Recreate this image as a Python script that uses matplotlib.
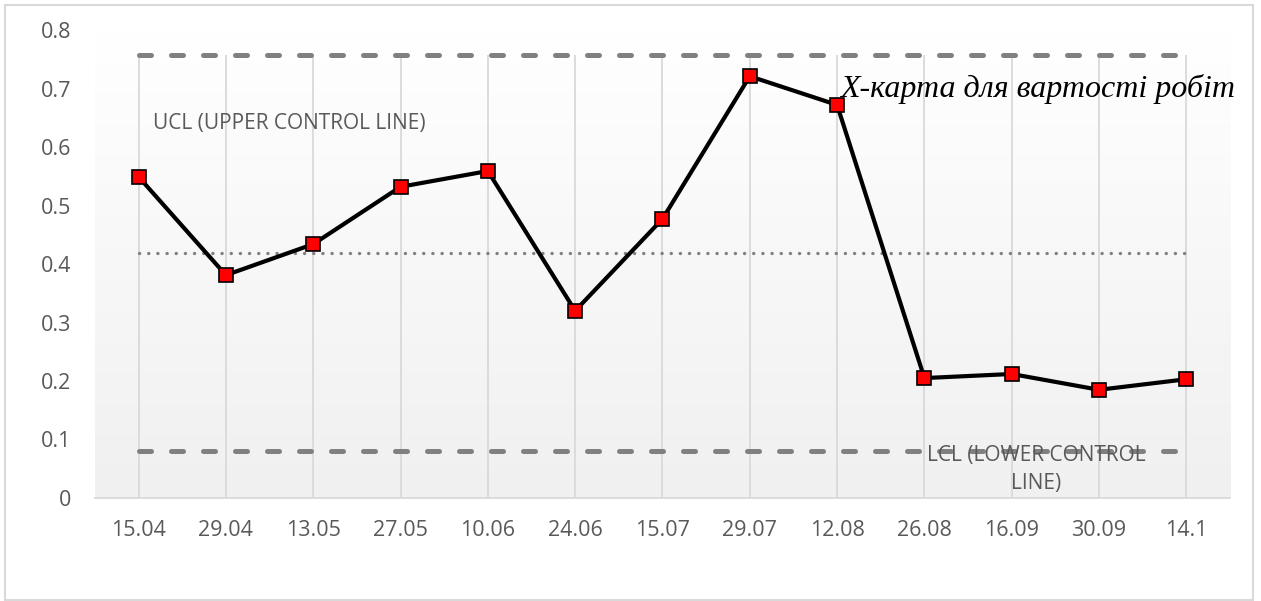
import numpy as np
import matplotlib
matplotlib.use("Agg")
import matplotlib.pyplot as plt
from matplotlib.patches import Rectangle

dates = ["15.04", "29.04", "13.05", "27.05", "10.06", "24.06", "15.07",
         "29.07", "12.08", "26.08", "16.09", "30.09", "14.1"]
cost = [0.549, 0.381, 0.434, 0.532, 0.559, 0.320, 0.477,
        0.721, 0.672, 0.205, 0.212, 0.185, 0.203]
ucl = 0.757
mean = 0.419
lcl = 0.080

plt.rcParams['font.family'] = ['Open Sans', 'DejaVu Sans']

fig = plt.figure(figsize=(12.61, 6.01), dpi=100)
ax = fig.add_axes([0.0753, 0.1714, 0.9001, 0.7786])

x = np.arange(len(dates))
ax.set_xlim(-0.5, len(dates) - 0.5)
ax.set_ylim(0, 0.8)

# plot area: white at the top fading to light grey
grad = np.linspace(0, 1, 256).reshape(-1, 1)
cmap = matplotlib.colors.LinearSegmentedColormap.from_list("bg", ["#f0f0f0", "#ffffff"])
ax.imshow(grad, extent=[-0.5, len(dates) - 0.5, 0, 0.8], origin="lower",
          aspect="auto", cmap=cmap, zorder=0)

# drop lines
ax.vlines(x, 0, ucl, color="#d9d9d9", lw=1.3, zorder=1)

ax.plot(x, [ucl] * len(x), color="#808080", lw=3.6,
        dash_capstyle="round", dashes=(2.4, 4.0), zorder=2)
ax.plot(x, [lcl] * len(x), color="#808080", lw=3.6,
        dash_capstyle="round", dashes=(2.4, 4.0), zorder=2)
ax.plot(x, [mean] * len(x), color="#808080", lw=2.4,
        dash_capstyle="round", dashes=(0.05, 2.7), zorder=2)

ax.plot(x, cost, color="black", lw=3, marker="s", markersize=10,
        markerfacecolor="#ff0000", markeredgecolor="black", markeredgewidth=1.2,
        zorder=4)

ax.set_xticks(x)
ax.set_xticklabels(dates)
ax.set_yticks(np.arange(0, 0.81, 0.1))
ax.set_yticklabels(["0"] + [f"{v:.1f}" for v in np.arange(0.1, 0.81, 0.1)])
ax.tick_params(axis="both", length=0, labelsize=15.5, labelcolor="#595959")
ax.tick_params(axis="x", pad=16)
ax.tick_params(axis="y", pad=17)
for side in ["top", "right", "left"]:
    ax.spines[side].set_visible(False)
ax.spines["bottom"].set_color("#d9d9d9")
ax.spines["bottom"].set_linewidth(1.3)

ax.text(0.17, 0.64, "UCL (UPPER CONTROL LINE)", fontsize=15, color="#595959",
        va="center", ha="left", zorder=5)
ax.text(10.28, 0.09, "LCL (LOWER CONTROL\nLINE)", fontsize=15, color="#595959",
        va="top", ha="center", linespacing=1.4, zorder=5)
ax.text(8.03, 0.70, "X-карта для вартості робіт", fontsize=23, style="italic",
        family="Liberation Serif", color="black", va="center", ha="left", zorder=5)

fig.patches.append(Rectangle((5 / 1261, 1 / 601), 1248 / 1261, 595 / 601,
                             transform=fig.transFigure, fill=False,
                             edgecolor="#d9d9d9", lw=1.5))

fig.savefig("out.png", dpi=100)
